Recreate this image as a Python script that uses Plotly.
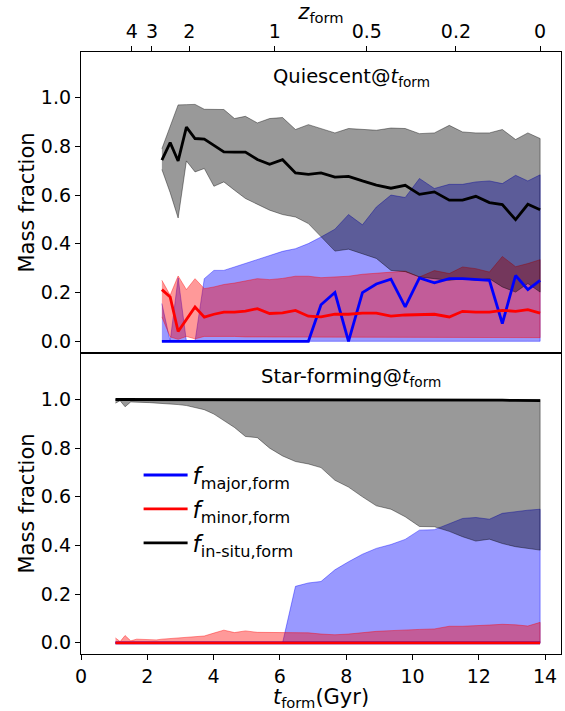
import plotly.graph_objects as go

# ---------------- data ----------------
# Quiescent@t_form panel
t_q = [2.44, 2.69, 2.93, 3.18, 3.44, 3.72, 4.01, 4.31, 4.63, 4.96, 5.32, 5.69, 6.08, 6.47, 6.86, 7.24,
       7.66, 8.07, 8.49, 8.91, 9.35, 9.78, 10.21, 10.66, 11.11, 11.51, 11.91, 12.32, 12.71, 13.11, 13.48, 13.85]
q_insitu_med = [0.743, 0.815, 0.740, 0.879, 0.832, 0.830, 0.804, 0.777, 0.776, 0.776, 0.746, 0.726, 0.745, 0.691,
                0.685, 0.691, 0.674, 0.677, 0.658, 0.641, 0.628, 0.640, 0.603, 0.613, 0.579, 0.579, 0.595, 0.569,
                0.561, 0.499, 0.562, 0.540]
q_insitu_hi = [0.790, 0.880, 0.970, 0.971, 0.972, 0.952, 0.951, 0.951, 0.914, 0.923, 0.896, 0.914, 0.918, 0.869,
               0.889, 0.873, 0.855, 0.873, 0.869, 0.866, 0.875, 0.873, 0.852, 0.855, 0.886, 0.859, 0.855, 0.855,
               0.869, 0.828, 0.855, 0.832]
q_insitu_lo = [0.705, 0.610, 0.506, 0.740, 0.695, 0.709, 0.636, 0.654, 0.620, 0.586, 0.562, 0.538, 0.520, 0.510,
               0.483, 0.428, 0.370, 0.378, 0.360, 0.340, 0.291, 0.286, 0.264, 0.257, 0.250, 0.257, 0.250, 0.257,
               0.223, 0.202, 0.237, 0.202]
q_major_med = [0.0, 0.0, 0.0, 0.0, 0.0, 0.0, 0.0, 0.0, 0.0, 0.0, 0.0, 0.0, 0.0, 0.0, 0.0, 0.150,
               0.200, 0.0, 0.200, 0.235, 0.255, 0.141, 0.260, 0.240, 0.257, 0.257, 0.255, 0.250, 0.073, 0.270,
               0.212, 0.250]
q_major_hi = [0.155, 0.0, 0.260, 0.0, 0.0, 0.257, 0.291, 0.291, 0.305, 0.319, 0.335, 0.353, 0.369, 0.380, 0.401,
              0.428, 0.460, 0.520, 0.478, 0.551, 0.600, 0.590, 0.668, 0.627, 0.644, 0.644, 0.654, 0.658, 0.647,
              0.681, 0.658, 0.683]
q_major_lo = [0.0, 0.0, 0.0, 0.0, 0.0, 0.0, 0.0, 0.0, 0.0, 0.0, 0.0, 0.0, 0.0, 0.0, 0.0, 0.0,
              0.0, 0.0, 0.0, 0.0, 0.0, 0.0, 0.0, 0.0, 0.0, 0.0, 0.0, 0.0, 0.0, 0.0, 0.0, 0.0]
q_minor_med = [0.212, 0.182, 0.040, 0.090, 0.141, 0.099, 0.111, 0.120, 0.120, 0.124, 0.134, 0.114, 0.117, 0.127,
               0.103, 0.100, 0.111, 0.111, 0.116, 0.116, 0.103, 0.108, 0.109, 0.111, 0.100, 0.123, 0.120, 0.120,
               0.127, 0.123, 0.130, 0.116]
q_minor_hi = [0.250, 0.189, 0.268, 0.212, 0.257, 0.216, 0.223, 0.233, 0.239, 0.247, 0.257, 0.253, 0.258, 0.267,
              0.267, 0.261, 0.264, 0.267, 0.275, 0.280, 0.284, 0.288, 0.264, 0.290, 0.278, 0.305, 0.298, 0.284,
              0.348, 0.306, 0.319, 0.335]
q_minor_lo = [0.100, 0.018, 0.008, 0.020, 0.010, 0.020, 0.020, 0.020, 0.020, 0.018, 0.018, 0.018, 0.016, 0.016,
              0.015, 0.015, 0.015, 0.015, 0.015, 0.015, 0.015, 0.015, 0.015, 0.015, 0.015, 0.015, 0.015, 0.015,
              0.015, 0.015, 0.015, 0.015]

# Star-forming@t_form panel
t_sf = [1.04, 1.18, 1.33, 1.50, 1.68, 1.87, 2.07, 2.27,
        2.44, 2.69, 2.93, 3.18, 3.44, 3.72, 4.01, 4.31, 4.63, 4.96, 5.32, 5.69, 6.08, 6.47, 6.86, 7.24,
        7.66, 8.07, 8.49, 8.91, 9.35, 9.78, 10.21, 10.66, 11.11, 11.51, 11.91, 12.32, 12.71, 13.11, 13.48, 13.85]
sf_insitu_med = [1.0, 1.0, 1.0, 1.0, 1.0, 1.0, 1.0, 1.0, 1.0, 1.0, 1.0, 1.0, 1.0, 1.0, 1.0, 1.0, 1.0, 1.0, 1.0,
                 1.0, 1.0, 1.0, 1.0, 1.0, 1.0, 1.0, 1.0, 1.0, 1.0, 1.0, 1.0, 0.999, 0.999, 0.998, 0.998, 0.997,
                 0.997, 0.996, 0.996, 0.995]
sf_insitu_hi = [1.0, 1.0, 1.0, 1.0, 1.0, 1.0, 1.0, 1.0, 1.0, 1.0, 1.0, 1.0, 1.0, 1.0, 1.0, 1.0, 1.0, 1.0, 1.0,
                1.0, 1.0, 1.0, 1.0, 1.0, 1.0, 1.0, 1.0, 1.0, 1.0, 1.0, 1.0, 1.0, 1.0, 1.0, 1.0, 1.0, 1.0, 1.0,
                1.0, 1.0]
sf_insitu_lo = [0.985, 0.995, 0.970, 0.990, 0.988, 0.988, 0.987, 0.985, 0.984, 0.982, 0.979, 0.975, 0.968, 0.958,
                0.940, 0.915, 0.885, 0.848, 0.843, 0.800, 0.768, 0.745, 0.735, 0.720, 0.668, 0.640, 0.600, 0.563,
                0.549, 0.518, 0.478, 0.477, 0.458, 0.436, 0.418, 0.426, 0.408, 0.395, 0.388, 0.381]
sf_major_med = [0.0, 0.0, 0.0, 0.0, 0.0, 0.0, 0.0, 0.0, 0.0, 0.0, 0.0, 0.0, 0.0, 0.0, 0.0, 0.0, 0.0, 0.0, 0.0,
                0.0, 0.0, 0.0, 0.0, 0.0, 0.0, 0.0, 0.0, 0.0, 0.0, 0.0, 0.0, 0.0, 0.0, 0.0, 0.0, 0.0, 0.0, 0.0,
                0.0, 0.0]
sf_major_hi = [0.0, 0.0, 0.0, 0.0, 0.0, 0.0, 0.0, 0.0, 0.0, 0.0, 0.0, 0.0, 0.0, 0.0, 0.0, 0.0, 0.0, 0.0, 0.0,
               0.0, 0.0, 0.232, 0.246, 0.252, 0.300, 0.333, 0.364, 0.388, 0.404, 0.425, 0.463, 0.465, 0.490,
               0.511, 0.515, 0.508, 0.532, 0.540, 0.545, 0.549]
sf_major_lo = [0.0, 0.0, 0.0, 0.0, 0.0, 0.0, 0.0, 0.0, 0.0, 0.0, 0.0, 0.0, 0.0, 0.0, 0.0, 0.0, 0.0, 0.0, 0.0,
               0.0, 0.0, 0.0, 0.0, 0.0, 0.0, 0.0, 0.0, 0.0, 0.0, 0.0, 0.0, 0.0, 0.0, 0.0, 0.0, 0.0, 0.0, 0.0,
               0.0, 0.0]
sf_minor_med = [0.0, 0.0, 0.0, 0.0, 0.0, 0.0, 0.0, 0.0, 0.0, 0.0, 0.0, 0.0, 0.0, 0.0, 0.0, 0.0, 0.0, 0.0, 0.0,
                0.0, 0.0, 0.0, 0.0, 0.0, 0.0, 0.0, 0.0, 0.0, 0.0, 0.0, 0.0, 0.0, 0.0, 0.0, 0.0, 0.0, 0.0, 0.0,
                0.0, 0.0]
sf_minor_hi = [0.020, 0.005, 0.030, 0.008, 0.015, 0.014, 0.012, 0.012, 0.015, 0.018, 0.020, 0.022, 0.026, 0.028,
               0.040, 0.052, 0.042, 0.049, 0.043, 0.042, 0.041, 0.040, 0.041, 0.036, 0.033, 0.036, 0.042, 0.047,
               0.050, 0.054, 0.055, 0.057, 0.068, 0.068, 0.069, 0.073, 0.076, 0.074, 0.069, 0.084]
sf_minor_lo = [0.0, 0.0, 0.0, 0.0, 0.0, 0.0, 0.0, 0.0, 0.0, 0.0, 0.0, 0.0, 0.0, 0.0, 0.0, 0.0, 0.0, 0.0, 0.0,
               0.0, 0.0, 0.0, 0.0, 0.0, 0.0, 0.0, 0.0, 0.0, 0.0, 0.0, 0.0, 0.0, 0.0, 0.0, 0.0, 0.0, 0.0, 0.0,
               0.0, 0.0]

# top axis: formation redshift and corresponding cosmic time (Gyr)
z_labels = ["4", "3", "2", "1", "0.5", "0.2", "0"]
z_ages = [1.53, 2.14, 3.27, 5.85, 8.62, 11.31, 13.85]

x_ticks = [0, 2, 4, 6, 8, 10, 12, 14]
y_ticks = [0.0, 0.2, 0.4, 0.6, 0.8, 1.0]

# ---------------- styling ----------------
FONT = "DejaVu Sans"
BLUE_FILL = "rgba(0,0,255,0.4)"
RED_FILL = "rgba(255,0,0,0.4)"
GRAY_FILL = "rgba(0,0,0,0.4)"

fig = go.Figure()


def band(t, lo, hi, fill, xa, ya):
    fig.add_trace(go.Scatter(
        x=list(t) + list(t)[::-1], y=list(hi) + list(lo)[::-1],
        fill="toself", fillcolor=fill, mode="lines",
        line=dict(color=fill, width=1), hoverinfo="skip", showlegend=False,
        xaxis=xa, yaxis=ya))


def med(t, v, color, name, xa, ya, show):
    fig.add_trace(go.Scatter(
        x=t, y=v, mode="lines", line=dict(color=color, width=2.8),
        name=name, legendgroup=name, showlegend=show, xaxis=xa, yaxis=ya))


# top panel (quiescent): x2 / y2
band(t_q, q_major_lo, q_major_hi, BLUE_FILL, "x2", "y2")
band(t_q, q_minor_lo, q_minor_hi, RED_FILL, "x2", "y2")
band(t_q, q_insitu_lo, q_insitu_hi, GRAY_FILL, "x2", "y2")
med(t_q, q_major_med, "#0000ff", "major", "x2", "y2", False)
med(t_q, q_minor_med, "#ff0000", "minor", "x2", "y2", False)
med(t_q, q_insitu_med, "#000000", "insitu", "x2", "y2", False)

# bottom panel (star-forming): x / y
band(t_sf, sf_major_lo, sf_major_hi, BLUE_FILL, "x", "y")
band(t_sf, sf_minor_lo, sf_minor_hi, RED_FILL, "x", "y")
band(t_sf, sf_insitu_lo, sf_insitu_hi, GRAY_FILL, "x", "y")
med(t_sf, sf_major_med, "#0000ff", "<i>f</i><sub>major,form</sub>", "x", "y", True)
med(t_sf, sf_minor_med, "#ff0000", "<i>f</i><sub>minor,form</sub>", "x", "y", True)
med(t_sf, sf_insitu_med, "#000000", "<i>f</i><sub>in-situ,form</sub>", "x", "y", True)

XR = [0, 14.48]
axis_common = dict(showline=True, linecolor="black", linewidth=1.3, mirror=True,
                   ticks="outside", ticklen=5, tickwidth=1.2, tickcolor="black",
                   showgrid=False, zeroline=False,
                   tickfont=dict(family=FONT, size=19, color="black"))

fig.update_layout(
    width=565, height=711,
    margin=dict(l=81, r=4, t=52, b=57, autoexpand=False),
    paper_bgcolor="white", plot_bgcolor="white",
    font=dict(family=FONT, color="black"),
    xaxis=dict(domain=[0, 1], anchor="y", range=XR, tickvals=x_ticks,
               title=dict(text="<i>t</i><sub>form</sub>(Gyr)", font=dict(size=21), standoff=4),
               **axis_common),
    yaxis=dict(domain=[0, 0.5], anchor="x", range=[-0.046, 1.191], tickvals=y_ticks, tickformat=".1f",
               title=dict(text="Mass fraction", font=dict(size=21), standoff=0), **axis_common),
    xaxis2=dict(domain=[0, 1], anchor="y2", range=XR, side="top", tickvals=z_ages, ticktext=z_labels,
                title=dict(text="<i>z</i><sub>form</sub>", font=dict(size=21), standoff=2),
                **axis_common),
    yaxis2=dict(domain=[0.5, 1], anchor="x2", range=[-0.048, 1.187], tickvals=y_ticks, tickformat=".1f",
                title=dict(text="Mass fraction", font=dict(size=21), standoff=0), **axis_common),
    legend=dict(x=0.12, y=0.333, xanchor="left", yanchor="top", bgcolor="rgba(0,0,0,0)",
                font=dict(family=FONT, size=23), tracegroupgap=1, itemwidth=44),
    annotations=[
        dict(text="Quiescent@<i>t</i><sub>form</sub>", xref="paper", yref="paper", x=0.563, y=0.982,
             showarrow=False, font=dict(family=FONT, size=19.5, color="black")),
        dict(text="Star-forming@<i>t</i><sub>form</sub>", xref="paper", yref="paper", x=0.563, y=0.46,
             showarrow=False, font=dict(family=FONT, size=19.5, color="black")),
    ],
)

fig.write_html("out.html")
